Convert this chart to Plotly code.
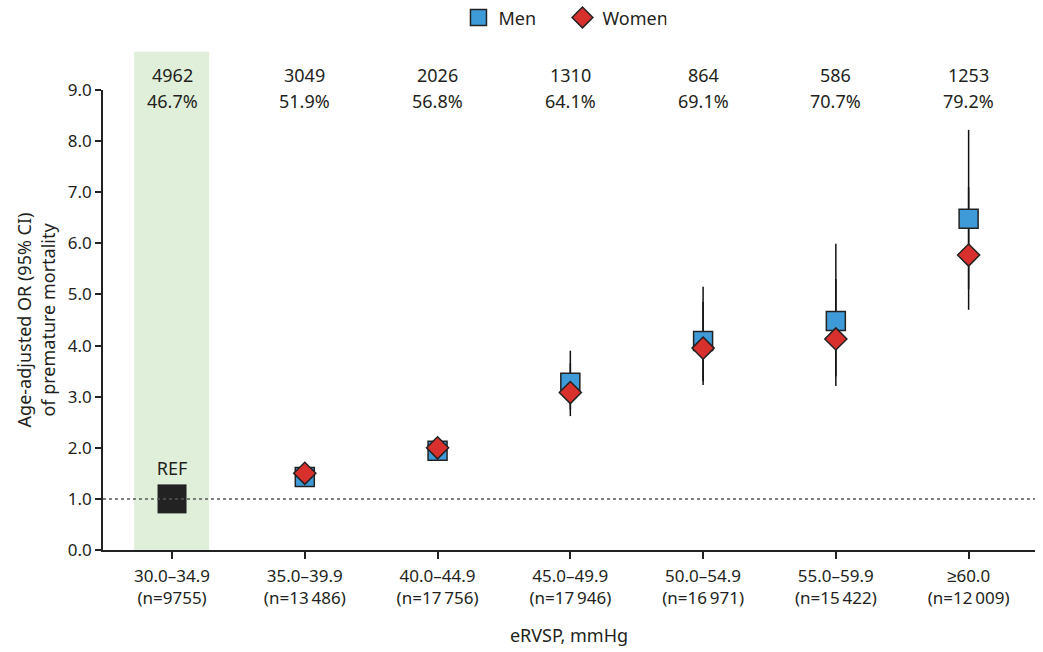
import plotly.graph_objects as go

# eRVSP categories and sample sizes
categories = ["30.0–34.9", "35.0–39.9", "40.0–44.9", "45.0–49.9",
              "50.0–54.9", "55.0–59.9", "≥60.0"]
n_labels = ["(n=9755)", "(n=13\u2009486)", "(n=17\u2009756)", "(n=17\u2009946)",
            "(n=16\u2009971)", "(n=15\u2009422)", "(n=12\u2009009)"]
deaths = ["4962", "3049", "2026", "1310", "864", "586", "1253"]
pct_men = ["46.7%", "51.9%", "56.8%", "64.1%", "69.1%", "70.7%", "79.2%"]

# Age-adjusted odds ratios (reference category = 1.0)
men_or = [None, 1.43, 1.94, 3.27, 4.09, 4.48, 6.48]
men_lo = [None, 1.28, 1.76, 2.75, 3.30, 3.40, 5.10]
men_hi = [None, 1.60, 2.12, 3.90, 5.15, 5.99, 8.22]
women_or = [None, 1.50, 2.00, 3.08, 3.95, 4.13, 5.77]
women_lo = [None, 1.32, 1.82, 2.62, 3.23, 3.21, 4.70]
women_hi = [None, 1.70, 2.18, 3.65, 4.85, 5.30, 7.10]
ref_or = 1.0

x = list(range(len(categories)))
FONT = "Noto Sans, sans-serif"
TXT = "#231f20"


def err(vals, lo, hi):
    plus = [None if v is None else h - v for v, h in zip(vals, hi)]
    minus = [None if v is None else v - l for v, l in zip(vals, lo)]
    return dict(type="data", array=plus, arrayminus=minus, symmetric=False,
                color="#111111", thickness=1.5, width=0)


fig = go.Figure()

# confidence intervals first so every marker sits on top of them
for vals, lo, hi in [(men_or, men_lo, men_hi), (women_or, women_lo, women_hi)]:
    fig.add_trace(go.Scatter(
        x=x, y=vals, mode="markers", marker=dict(size=1, opacity=0),
        error_y=err(vals, lo, hi), showlegend=False, hoverinfo="skip"))

fig.add_trace(go.Scatter(
    x=x, y=men_or, mode="markers", name="Men",
    marker=dict(symbol="square", size=19, color="#3f9bd8",
                line=dict(color="#222222", width=1.5))))
fig.add_trace(go.Scatter(
    x=x, y=women_or, mode="markers", name="Women",
    marker=dict(symbol="diamond", size=17, color="#d8312d",
                line=dict(color="#222222", width=1.5))))

# reference category
fig.add_trace(go.Scatter(
    x=[x[0]], y=[ref_or], mode="markers+text", text=["REF"],
    textposition="top center", textfont=dict(size=18, color=TXT, family=FONT),
    marker=dict(symbol="square", size=29, color="#222222"),
    showlegend=False))

# highlighted reference band
fig.add_shape(type="rect", xref="x", yref="paper", x0=-0.285, x1=0.28,
              y0=0, y1=1.083, fillcolor="#e0efda", line=dict(width=0),
              layer="below")

# OR = 1 line
fig.add_shape(type="line", xref="paper", yref="y", x0=0, x1=1,
              y0=ref_or, y1=ref_or,
              line=dict(color="#555555", width=1.5, dash="dot"))

for xi, d, p in zip(x, deaths, pct_men):
    fig.add_annotation(x=xi, y=1.0326, xref="x", yref="paper", text=d,
                       showarrow=False, yanchor="middle",
                       font=dict(size=18, color=TXT, family=FONT))
    fig.add_annotation(x=xi, y=0.976, xref="x", yref="paper", text=p,
                       showarrow=False, yanchor="middle",
                       font=dict(size=18, color=TXT, family=FONT))

fig.update_layout(
    width=1043, height=652,
    margin=dict(l=103, r=8, t=90, b=102, autoexpand=False),
    paper_bgcolor="white", plot_bgcolor="white",
    font=dict(family=FONT, size=17, color=TXT),
    legend=dict(orientation="h", x=0.493, xanchor="center", y=1.157,
                yanchor="middle", font=dict(size=18), itemwidth=30,
                entrywidth=59),
    xaxis=dict(range=[-0.52, 6.5], tickmode="array", tickvals=x,
               ticktext=[f"{c}<br>{n}" for c, n in zip(categories, n_labels)],
               showline=True, linecolor="#222222", linewidth=1.5,
               ticks="outside", ticklen=7, tickwidth=1.5, tickcolor="#222222",
               ticklabelstandoff=3,
               showgrid=False, zeroline=False,
               title=dict(text="eRVSP, mmHg", standoff=21,
                          font=dict(size=18))),
    yaxis=dict(range=[0, 9], tickmode="linear", tick0=0, dtick=1,
               tickformat=".1f", showline=True, linecolor="#222222",
               linewidth=1.5, ticks="outside", ticklen=6, tickwidth=1.5,
               tickcolor="#222222", showgrid=False, zeroline=False,
               title=dict(text="Age-adjusted OR (95% CI)<br>of premature mortality",
                          standoff=8, font=dict(size=18))),
)

fig.write_html("out.html")
